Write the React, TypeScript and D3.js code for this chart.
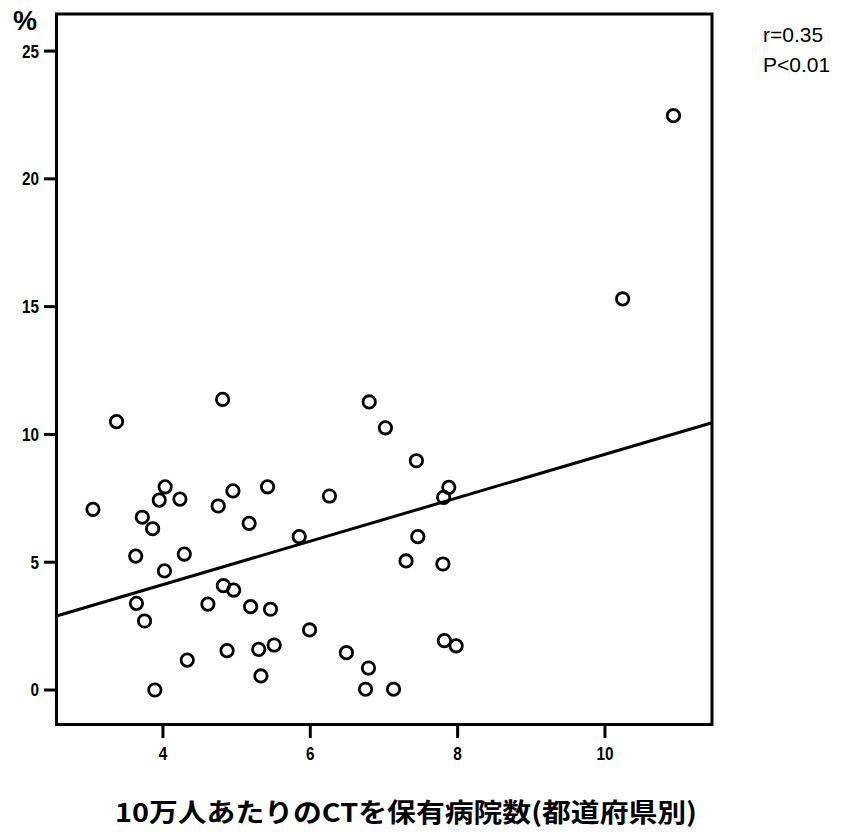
import React from "react";
import * as d3 from "d3";

const xValues: number[] = [
  4.81, 3.37, 4.03, 3.95, 4.23, 4.95, 5.42, 4.75, 3.05, 3.72,
  3.86, 5.17, 5.85, 3.63, 4.29, 4.02, 4.82, 4.96, 3.64, 4.61,
  5.19, 5.46, 3.75, 5.99, 4.33, 4.87, 5.30, 5.51, 5.33, 3.89,
  6.80, 7.02, 7.44, 6.26, 7.88, 7.81, 7.46, 7.30, 7.80, 6.49,
  6.79, 6.75, 7.13, 7.82, 7.98, 10.93, 10.24,
];
const yValues: number[] = [
  11.37, 10.50, 7.95, 7.43, 7.47, 7.79, 7.95, 7.20, 7.07, 6.76,
  6.31, 6.52, 6.00, 5.24, 5.32, 4.66, 4.08, 3.91, 3.39, 3.36,
  3.26, 3.16, 2.70, 2.35, 1.17, 1.54, 1.59, 1.76, 0.55, 0.0,
  11.27, 10.26, 8.97, 7.59, 7.93, 7.54, 6.00, 5.05, 4.93, 1.46,
  0.86, 0.03, 0.03, 1.93, 1.73, 22.47, 15.30,
];
const xTicks: number[] = [4, 6, 8, 10];
const yTicks: number[] = [0, 5, 10, 15, 20, 25];
const regression: number[] = [0.723, 0.85]; // intercept, slope
const statLines: string[] = ["r=0.35", "P<0.01"];
const xTitle = "10万人あたりのCTを保有病院数(都道府県別)";
const yUnit = "%";

export default function App() {
  const left = 56.5, right = 712, top = 14, bottom = 724.5;
  const x = d3.scaleLinear().domain([2.555, 11.453]).range([left, right]);
  const y = d3.scaleLinear().domain([-1.35, 26.45]).range([bottom, top]);
  const [x0, x1] = x.domain();
  const lineGen = d3.line<number>().x((d) => x(d)).y((d) => y(regression[0] + regression[1] * d));
  const tickFont = "'Liberation Sans Narrow', 'Liberation Sans', Arial, sans-serif";
  return (
    <svg width={849} height={835} style={{ position: "absolute", left: 0, top: 0, background: "#fff" }}>
      <rect x={0} y={0} width={849} height={835} fill="#fff" />
      <path d={lineGen([x0, x1]) || ""} fill="none" stroke="#000" strokeWidth={3} />
      {xValues.map((xv, i) => (
        <circle key={i} cx={x(xv)} cy={y(yValues[i])} r={6.2} fill="none" stroke="#000" strokeWidth={2.8} />
      ))}
      <rect x={left} y={top} width={right - left} height={bottom - top} fill="none" stroke="#000" strokeWidth={3} />
      {yTicks.map((t) => (
        <g key={"y" + t}>
          <line x1={44} x2={left} y1={y(t)} y2={y(t)} stroke="#000" strokeWidth={3} />
          <text x={39} y={y(t)} dy="0.36em" textAnchor="end" fontFamily={tickFont} fontWeight="bold" fontSize={18}
            transform={`translate(39,0) scale(0.85,1) translate(-39,0)`}>
            {t}
          </text>
        </g>
      ))}
      {xTicks.map((t) => (
        <g key={"x" + t}>
          <line x1={x(t)} x2={x(t)} y1={bottom} y2={738} stroke="#000" strokeWidth={3} />
          <text x={x(t)} y={760} textAnchor="middle" fontFamily={tickFont} fontWeight="bold" fontSize={18}
            transform={`translate(${x(t)},0) scale(0.85,1) translate(${-x(t)},0)`}>
            {t}
          </text>
        </g>
      ))}
      <text x={25} y={30} textAnchor="middle" fontFamily="'Liberation Sans', Arial, sans-serif" fontWeight="bold" fontSize={27}>
        {yUnit}
      </text>
      {statLines.map((s, i) => (
        <text key={s} x={763} y={42 + i * 30} fontFamily="'Liberation Sans', Arial, sans-serif" fontSize={21}>
          {s}
        </text>
      ))}
      <text x={406} y={822} textAnchor="middle" textLength={582} lengthAdjust="spacingAndGlyphs"
        fontFamily="'Noto Sans CJK JP', sans-serif" fontWeight="bold" fontSize={26}>
        {xTitle}
      </text>
    </svg>
  );
}
